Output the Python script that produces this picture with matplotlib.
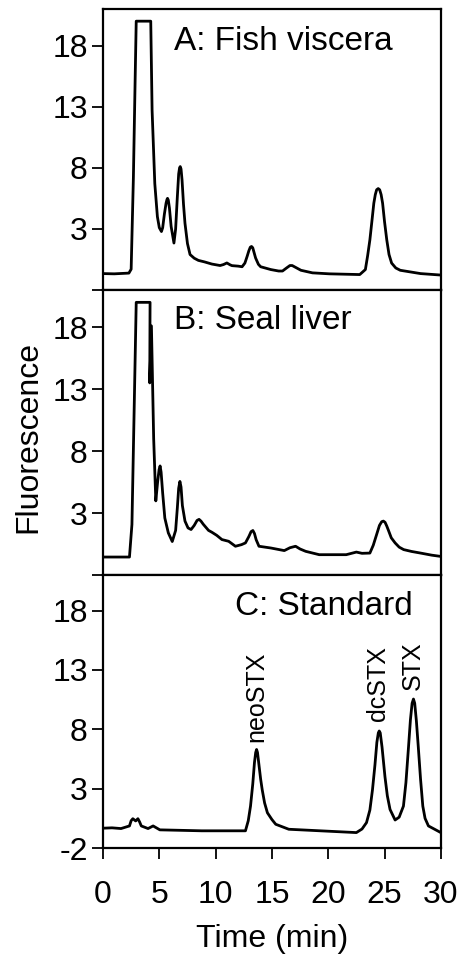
import matplotlib.pyplot as plt

plt.rcParams['font.family'] = ['Liberation Sans', 'DejaVu Sans']

# HPLC chromatograms (time in min, fluorescence)

# A: Fish viscera
time_a = [0, 1.0, 2.3, 2.5, 2.7, 2.85, 2.95, 4.24, 4.36, 4.6, 4.83, 5.0, 5.19, 5.3, 5.45,
          5.6, 5.68, 5.73, 5.8, 5.9, 6.05, 6.3, 6.45, 6.6, 6.72, 6.8, 6.86, 6.93, 7.02,
          7.15, 7.28, 7.5, 7.73, 8.1, 8.47, 9.0, 9.67, 10.4, 10.7, 11.0, 11.3, 11.46,
          12.0, 12.35, 12.6, 12.8, 12.95, 13.08, 13.19, 13.3, 13.42, 13.55, 13.8, 14.0,
          14.9, 15.6, 15.94, 16.3, 16.6, 16.8, 17.1, 17.58, 18.6, 20.1, 22.8, 23.3,
          23.5, 23.7, 23.9, 24.05, 24.18, 24.3, 24.44, 24.57, 24.7, 24.83, 25.0, 25.2,
          25.4, 25.63, 26.0, 26.4, 28.2, 30.0]
sig_a = [-0.66, -0.68, -0.62, -0.3, 7.25, 15.0, 20.0, 20.0, 12.7, 6.7, 4.0, 3.1, 2.78,
         3.1, 4.2, 5.1, 5.4, 5.5, 5.35, 4.7, 3.2, 1.84, 3.0, 5.6, 7.5, 8.0, 8.1, 7.9,
         7.0, 5.0, 3.46, 1.8, 0.9, 0.6, 0.42, 0.3, 0.12, 0.0, 0.08, 0.21, 0.05, -0.01,
         -0.05, -0.1, 0.2, 0.75, 1.2, 1.5, 1.56, 1.45, 1.05, 0.62, 0.1, -0.1, -0.33,
         -0.45, -0.45, -0.2, 0.0, 0.0, -0.15, -0.39, -0.6, -0.68, -0.74, -0.33, 0.8,
         2.1, 3.8, 5.1, 5.8, 6.2, 6.3, 6.2, 5.8, 5.1, 3.6, 2.1, 0.9, 0.2, -0.2, -0.39,
         -0.66, -0.78]

# B: Seal liver
time_b = [0, 2.35, 2.57, 2.8, 2.95, 4.18, 4.15, 4.3, 4.5, 4.69, 4.85, 4.98, 5.07, 5.16,
          5.3, 5.49, 5.8, 6.15, 6.45, 6.6, 6.72, 6.83, 6.93, 7.05, 7.28, 7.55, 7.82,
          8.1, 8.35, 8.53, 8.7, 8.9, 9.37, 9.67, 10.1, 10.56, 11.16, 11.76, 12.3,
          12.65, 12.95, 13.15, 13.31, 13.45, 13.6, 13.85, 14.9, 16.1, 16.6, 17.1, 17.5,
          18.0, 19.2, 21.6, 22.5, 23.0, 23.7, 24.0, 24.3, 24.55, 24.75, 24.9, 25.05,
          25.2, 25.35, 25.6, 25.94, 26.3, 26.7, 27.4, 28.2, 29.2, 30.0]
sig_b = [-0.55, -0.55, 2.08, 12.9, 20.0, 20.0, 13.5, 18.1, 9.0, 3.98, 5.5, 6.5, 6.8, 6.3,
         4.6, 2.6, 1.4, 0.7, 1.6, 3.4, 5.0, 5.55, 5.1, 3.6, 2.35, 1.8, 1.67, 2.0, 2.4,
         2.49, 2.35, 2.1, 1.6, 1.45, 1.2, 0.86, 0.72, 0.32, 0.45, 0.59, 1.1, 1.5, 1.59,
         1.35, 0.85, 0.32, 0.18, -0.03, 0.2, 0.32, 0.1, -0.09, -0.36, -0.36, -0.15,
         -0.25, -0.23, 0.4, 1.27, 2.0, 2.3, 2.35, 2.25, 1.95, 1.6, 1.0, 0.59, 0.25, 0.05,
         -0.1, -0.23, -0.4, -0.5]

# C: Standard
time_c = [0, 0.8, 1.6, 2.35, 2.5, 2.65, 2.9, 3.1, 3.25, 3.4, 4.0, 4.45, 5.05, 8.77,
          12.65, 12.9, 13.1, 13.3, 13.45, 13.56, 13.64, 13.72, 13.85, 14.0, 14.14, 14.35,
          14.6, 15.0, 15.34, 16.5, 22.5, 23.0, 23.4, 23.7, 23.93, 24.15, 24.32, 24.45,
          24.53, 24.62, 24.78, 25.04, 25.25, 25.49, 25.94, 26.3, 26.68, 26.9, 27.13,
          27.3, 27.45, 27.57, 27.68, 27.83, 28.0, 28.2, 28.4, 28.6, 28.9, 30.0]
sig_c = [-0.33, -0.3, -0.36, -0.14, 0.3, 0.47, 0.28, 0.47, 0.2, -0.14, -0.36, -0.14,
         -0.47, -0.55, -0.55, 0.3, 1.53, 3.4, 5.2, 6.05, 6.3, 6.05, 5.0, 3.8, 2.9, 1.8,
         0.97, 0.4, 0.0, -0.42, -0.7, -0.4, 0.14, 1.2, 2.9, 5.0, 6.9, 7.7, 7.86, 7.7,
         6.5, 4.0, 2.4, 1.25, 0.36, 0.6, 1.53, 3.5, 6.5, 8.8, 10.2, 10.55, 10.2, 8.7,
         6.5, 3.8, 1.53, 0.5, -0.14, -0.7]

panel_titles = ["A: Fish viscera", "B: Seal liver", "C: Standard"]
peak_names = ["neoSTX", "dcSTX", "STX"]
peak_pos = [(13.6, 6.9), (24.4, 8.7), (27.5, 11.3)]

y_ticks = [-2, 3, 8, 13, 18]
x_ticks = [0, 5, 10, 15, 20, 25, 30]

fig = plt.figure(figsize=(4.59, 9.63), dpi=100)

# positions of the three stacked panels (figure fractions)
left, width = 0.2244, 0.736
rows = [(0.6989, 0.2918), (0.4029, 0.2960), (0.1194, 0.2835)]

series = [(time_a, sig_a), (time_b, sig_b), (time_c, sig_c)]
axes = []
for i, (t, s) in enumerate(series):
    bottom, height = rows[i]
    ax = fig.add_axes([left, bottom, width, height])
    ax.plot(t, s, color="black", lw=2.0, solid_joinstyle="round")
    ax.set_xlim(0, 30)
    ax.set_ylim(-2, 21)
    ax.set_yticks(y_ticks)
    if i < 2:
        ax.set_yticklabels([""] + [str(v) for v in y_ticks[1:]])
        ax.set_xticks([])
    else:
        ax.set_yticklabels([str(v) for v in y_ticks])
        ax.set_xticks(x_ticks)
        ax.set_xticklabels([str(v) for v in x_ticks])
    ax.tick_params(axis="both", direction="out", length=8, width=1.3,
                   labelsize=23, pad=3)
    ax.tick_params(axis="x", pad=15)
    for sp in ax.spines.values():
        sp.set_linewidth(1.6)
    axes.append(ax)

# panel labels
axes[0].text(0.21, 0.854, panel_titles[0], transform=axes[0].transAxes,
             fontsize=24, va="baseline", ha="left")
axes[1].text(0.21, 0.863, panel_titles[1], transform=axes[1].transAxes,
             fontsize=24, va="baseline", ha="left")
axes[2].text(0.917, 0.853, panel_titles[2], transform=axes[2].transAxes,
             fontsize=24, va="baseline", ha="right")

# peak names in the standard
for name, (px, py) in zip(peak_names, peak_pos):
    axes[2].text(px, py, name, rotation=90, fontsize=18, ha="center", va="bottom")

axes[2].set_xlabel("Time (min)", fontsize=23, labelpad=10)
fig.text(28 / 459, 1 - 437 / 963, "Fluorescence", rotation=90, fontsize=23,
         ha="center", va="center")

fig.savefig("out.png", dpi=100)
